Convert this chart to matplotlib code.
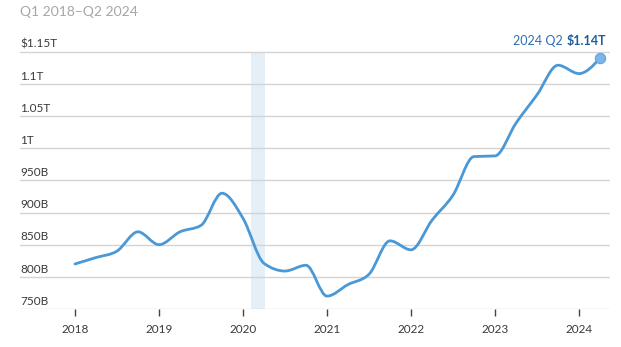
import numpy as np
import matplotlib
matplotlib.use("Agg")
import matplotlib.pyplot as plt
from matplotlib.path import Path
from matplotlib.patches import PathPatch

plt.rcParams["font.family"] = ["Lato", "DejaVu Sans"]

# quarterly values, Q1 2018 .. Q2 2024, in billions of dollars
years = [2018, 2019, 2020, 2021, 2022, 2023, 2024]
quarters = [y + q / 4 for y in years for q in range(4)][:26]
values = [
    820, 830, 840, 870,
    850, 870, 880, 930,
    891, 821, 809, 818,
    770, 788, 804, 856,
    842, 888, 927, 987,
    988, 1039, 1083, 1129,
    1116, 1140,
]
y_ticks = [750, 800, 850, 900, 950, 1000, 1050, 1100, 1150]
y_tick_labels = ["750B", "800B", "850B", "900B", "950B", "1T", "1.05T", "1.1T", "$1.15T"]
recession = (2020.09, 2020.26)

line_color = "#4a98d6"
grid_color = "#d4d4d4"
text_color = "#3a3a3a"


def monotone_path(x, y):
    # monotone cubic through the points, built from bezier segments
    x = np.asarray(x, float)
    y = np.asarray(y, float)
    h = np.diff(x)
    s = np.diff(y) / h
    t = np.zeros_like(y)
    for i in range(1, len(x) - 1):
        p = (s[i - 1] * h[i] + s[i] * h[i - 1]) / (h[i - 1] + h[i])
        t[i] = (np.sign(s[i - 1]) + np.sign(s[i])) * min(abs(s[i - 1]), abs(s[i]), 0.5 * abs(p))
    t[0] = (3 * s[0] - t[1]) / 2
    t[-1] = (3 * s[-1] - t[-2]) / 2
    verts = [(x[0], y[0])]
    codes = [Path.MOVETO]
    for i in range(len(x) - 1):
        d = h[i] / 3
        verts += [(x[i] + d, y[i] + d * t[i]),
                  (x[i + 1] - d, y[i + 1] - d * t[i + 1]),
                  (x[i + 1], y[i + 1])]
        codes += [Path.CURVE4] * 3
    return Path(verts, codes)


fig = plt.figure(figsize=(6.21, 3.47), dpi=100)
ax = fig.add_axes([20 / 621, 38 / 347, 590 / 621, 279 / 347])

x_left = 2018 - 55 / 84
x_right = 2018 + 535 / 84
ax.set_xlim(x_left, x_right)
ax.set_ylim(750, 750 + 279 / 32.16 * 50)

for sp in ax.spines.values():
    sp.set_visible(False)

# horizontal grid with labels sitting on top of each line
for v, lab in zip(y_ticks, y_tick_labels):
    ax.axhline(v, color=grid_color, linewidth=1.0, zorder=1)
    ax.text(x_left, v + 3.5, lab, ha="left", va="bottom",
            fontsize=8.5, color=text_color)

ax.axvspan(*recession, ymin=0, ymax=(1150 - 750) / (279 / 32.16 * 50),
           color="#e4eff8", linewidth=0, zorder=0)

ax.add_patch(PathPatch(monotone_path(quarters, values), fill=False,
                       edgecolor=line_color, linewidth=2.0,
                       capstyle="round", joinstyle="round", zorder=3))
ax.scatter([quarters[-1]], [values[-1]], s=55, color="#7db6e6",
           edgecolor="#5fa3dd", linewidth=0.8, zorder=4)

ax.set_yticks([])
ax.set_xticks(years)
ax.set_xticklabels([str(y) for y in years])
ax.tick_params(axis="x", length=5, width=1, color="#444444", pad=6,
               labelsize=8.5, labelcolor=text_color)

fig.text(20 / 621, 1 - 12 / 347, "Q1 2018\u2013Q2 2024", ha="left", va="center",
         fontsize=10, color="#a6a6a6")

# end-point annotation: regular date, bold value
renderer = fig.canvas.get_renderer()
t_bold = fig.text(606 / 621, 1 - 45 / 347, "$1.14T", ha="right", va="baseline",
                  fontsize=9, fontweight="bold", color="#1f5c9e")
bb = t_bold.get_window_extent(renderer)
fig.text((bb.x0 - 4) / 621, 1 - 45 / 347, "2024 Q2", ha="right", va="baseline",
         fontsize=9, color="#2f6fb3")

fig.savefig("out.png", dpi=100)
